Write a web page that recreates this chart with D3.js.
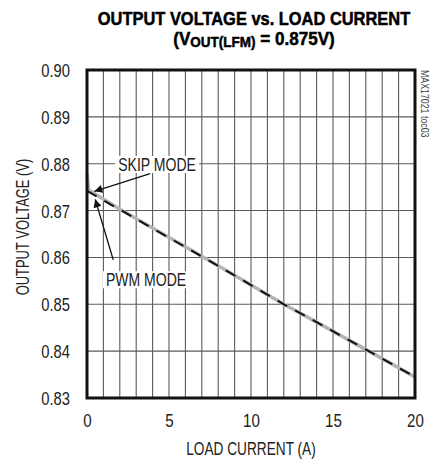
<!DOCTYPE html>
<html>
<head>
<meta charset="utf-8">
<script src="https://cdn.jsdelivr.net/npm/d3@7"></script>
<style>
  body { margin: 0; background: #fff; }
  svg text { font-family: "Liberation Sans", Arial, sans-serif; }
</style>
</head>
<body>
<div id="chart"></div>
<script>
const ctx = {
    w: 435,
    h: 460,
    marginTop: 70,
    marginRight: 20,
    marginBottom: 62,
    marginLeft: 87
};

// load current (A)
const skipLoad = [0, 0.1, 2, 4, 6, 8, 10, 12, 14, 16, 18, 20];
const skipVout = [0.8778, 0.8744, 0.8703, 0.8663, 0.8623, 0.8582, 0.8541, 0.8500, 0.8462, 0.8423, 0.8384, 0.8345];
const pwmLoad = [0, 2, 4, 6, 8, 10, 12, 14, 16, 18, 20];
const pwmVout = [0.8742, 0.8702, 0.8662, 0.8622, 0.8582, 0.8541, 0.8500, 0.8462, 0.8423, 0.8384, 0.8345];

const xTicks = [0, 5, 10, 15, 20];
const yTicks = [0.83, 0.84, 0.85, 0.86, 0.87, 0.88, 0.89, 0.90];

// no condensed font installed, so squeeze text horizontally
function narrow(sel, k) {
    sel.each(function () {
        const t = d3.select(this);
        const tx = +t.attr("x") || 0, ty = +t.attr("y") || 0;
        t.attr("x", 0).attr("y", 0)
         .attr("transform", `translate(${tx},${ty}) scale(${k},1)`);
    });
}

function createViz() {
    const width = ctx.w - ctx.marginLeft - ctx.marginRight;
    const height = ctx.h - ctx.marginTop - ctx.marginBottom;

    const root = d3.select("#chart").append("svg")
        .attr("width", ctx.w)
        .attr("height", ctx.h);

    // title
    const t1 = root.append("text")
        .attr("x", 254).attr("y", 25)
        .attr("text-anchor", "middle")
        .style("font-size", "19px").style("font-weight", "bold")
        .attr("stroke", "#000").attr("stroke-width", 0.5)
        .text("OUTPUT VOLTAGE vs. LOAD CURRENT");
    const t2 = root.append("text")
        .attr("x", 254).attr("y", 45)
        .attr("text-anchor", "middle")
        .style("font-size", "19px").style("font-weight", "bold")
        .attr("stroke", "#000").attr("stroke-width", 0.5);
    t2.append("tspan").text("(V");
    t2.append("tspan").attr("dy", 2).style("font-size", "15px").text("OUT(LFM)");
    t2.append("tspan").attr("dy", -2).text(" = 0.875V)");
    narrow(t1, 0.865);
    narrow(t2, 0.9);

    const svg = root.append("g")
        .attr("transform", `translate(${ctx.marginLeft},${ctx.marginTop})`);

    const x = d3.scaleLinear().domain([0, 20]).range([0, width]);
    const y = d3.scaleLinear().domain([0.83, 0.90]).range([height, 0]);

    // grid
    svg.append("g")
        .selectAll("line")
        .data(d3.range(1, 20))
        .join("line")
        .attr("x1", d => x(d)).attr("x2", d => x(d))
        .attr("y1", 0).attr("y2", height)
        .attr("stroke", "#5a5a5a")
        .attr("stroke-width", 1.1);
    svg.append("g")
        .selectAll("line")
        .data(yTicks.slice(1, -1))
        .join("line")
        .attr("x1", 0).attr("x2", width)
        .attr("y1", d => y(d)).attr("y2", d => y(d))
        .attr("stroke", "#5a5a5a")
        .attr("stroke-width", 1.1);

    // axes (labels only)
    const xAxis = svg.append("g")
        .attr("transform", `translate(0,${height})`)
        .call(d3.axisBottom(x).tickValues(xTicks).tickSize(0).tickPadding(16));
    const yAxis = svg.append("g")
        .call(d3.axisLeft(y).tickValues(yTicks).tickFormat(d3.format(".2f")).tickSize(0).tickPadding(17));
    [xAxis, yAxis].forEach(a => {
        a.select(".domain").remove();
        a.selectAll("text")
            .style("font-size", "18px")
            .style("font-family", "'Liberation Sans', Arial, sans-serif")
            .attr("fill", "#222");
    });
    yAxis.selectAll("text").attr("dy", "0.36em");
    narrow(xAxis.selectAll("text"), 0.84);
    narrow(yAxis.selectAll("text"), 0.82);

    const xl = root.append("text")
        .attr("x", 251).attr("y", 455)
        .attr("text-anchor", "middle")
        .style("font-size", "18px").attr("fill", "#222")
        .text("LOAD CURRENT (A)");
    narrow(xl, 0.76);
    root.append("g")
        .attr("transform", "translate(29,227) rotate(-90)")
        .append("text")
        .attr("text-anchor", "middle")
        .style("font-size", "18px").attr("fill", "#222")
        .text("OUTPUT VOLTAGE (V)")
        .call(narrow, 0.72);

    root.append("g")
        .attr("transform", "translate(421,70) rotate(90)")
        .append("text")
        .attr("text-anchor", "start")
        .style("font-size", "11px").attr("fill", "#444")
        .text("MAX17021 toc03")
        .call(narrow, 0.8);

    // curves
    const line = d3.line().x(d => x(d[0])).y(d => y(d[1]));
    svg.append("path")
        .datum(d3.zip(skipLoad, skipVout))
        .attr("fill", "none")
        .attr("stroke", "#b4b4b4")
        .attr("stroke-width", 3.5)
        .attr("d", line);
    svg.append("path")
        .datum(d3.zip(pwmLoad, pwmVout))
        .attr("fill", "none")
        .attr("stroke", "#111")
        .attr("stroke-width", 2)
        .attr("stroke-dasharray", "11,9")
        .attr("d", line);

    // annotations
    const defs = root.append("defs");
    defs.append("marker")
        .attr("id", "arrow")
        .attr("viewBox", "0 0 10 10")
        .attr("refX", 10).attr("refY", 5)
        .attr("markerWidth", 12).attr("markerHeight", 8)
        .attr("markerUnits", "userSpaceOnUse")
        .attr("orient", "auto")
        .append("path")
        .attr("d", "M0,0L10,5L0,10Z")
        .attr("fill", "#111");

    const notes = [
        { label: "SKIP MODE", tx: 4.27, ty: 0.8799, from: [3.85, 0.8779], to: [0.45, 0.8741] },
        { label: "PWM MODE", tx: 3.6, ty: 0.8553, from: [1.6, 0.8595], to: [0.5, 0.8724] }
    ];
    notes.forEach(n => {
        const g = svg.append("g");
        const txt = g.append("text")
            .attr("x", x(n.tx)).attr("y", y(n.ty))
            .attr("dy", "0.36em")
            .attr("text-anchor", "middle")
            .style("font-size", "18px").attr("fill", "#222")
            .text(n.label);
        narrow(txt, 0.78);
        const bb = txt.node().getBBox();
        const k = 0.78;
        g.insert("rect", "text")
            .attr("x", x(n.tx) + bb.x * k - 3).attr("y", y(n.ty) + bb.y + 2)
            .attr("width", bb.width * k + 6).attr("height", bb.height - 3)
            .attr("fill", "#fff");
        svg.append("line")
            .attr("x1", x(n.from[0])).attr("y1", y(n.from[1]))
            .attr("x2", x(n.to[0])).attr("y2", y(n.to[1]))
            .attr("stroke", "#111").attr("stroke-width", 1.3)
            .attr("marker-end", "url(#arrow)");
    });

    // frame
    svg.append("rect")
        .attr("width", width).attr("height", height)
        .attr("fill", "none")
        .attr("stroke", "#111")
        .attr("stroke-width", 3);
}

document.addEventListener("DOMContentLoaded", function () {
    createViz();
});
</script>
</body>
</html>
